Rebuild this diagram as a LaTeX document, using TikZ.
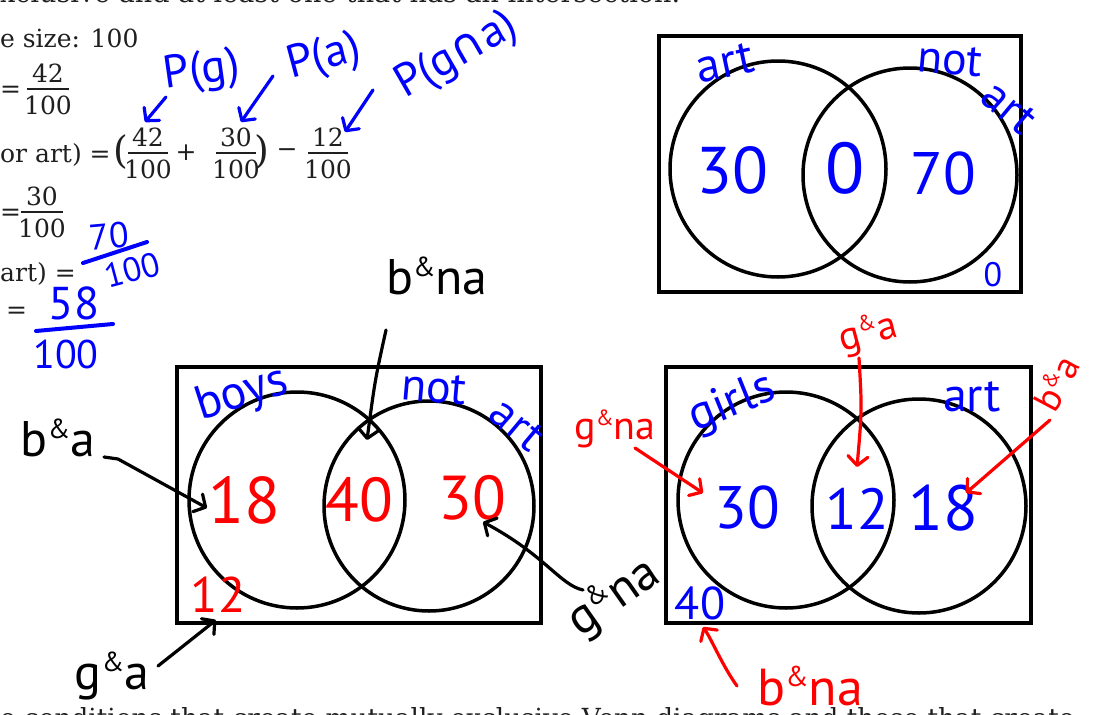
\documentclass[tikz,border=0pt]{standalone}
\usepackage{fontspec}
\setmainfont{DejaVu Serif}
\newfontfamily\hand{PT Sans}
\newfontfamily\symf{DejaVu Sans}
\usetikzlibrary{arrows.meta}
\definecolor{hblue}{RGB}{0,0,255}
\definecolor{hred}{RGB}{255,0,0}
\newcommand\hamp{\raisebox{0.35em}{\scalebox{0.55}{\&}}}
\newcommand\hs[1]{\hand\fontsize{#1}{#1}\selectfont}
\newcommand\ps[1]{\fontsize{#1}{#1}\selectfont}
\tikzset{
  hw/.style={font=\hs{#1}, inner sep=0pt},
  pt/.style={font=\ps{#1}, inner sep=0pt, text=black!88},
  box/.style={draw=black, line width=4.5pt, inner sep=0pt},
  ring/.style={draw=black, line width=3.5pt, circle, inner sep=0pt},
  arr/.style={line width=3.2pt, line cap=round, line join=round,
    -{Straight Barb[length=9pt,width=20pt,line cap=round,line join=round]}},
  fbar/.style={line width=1.8pt, draw=black!88},
  hbar/.style={line width=4pt, line cap=round, draw=hblue},
}
\newcommand\fracat[6]{%
  \node[pt=25] (#1n) at (#2,#3-16) {#4};
  \draw[fbar] (#2-#6,#3) -- (#2+#6,#3);
  \node[pt=25] (#1d) at (#2,#3+16) {#5};}
\begin{document}
\begin{tikzpicture}[x=1pt,y=-1pt]
\useasboundingbox (0,0) rectangle (1093,715);
\clip (0,0) rectangle (1093,715);

% printed text
\node[pt=27, anchor=base west] (topline) at (0,2) {xclusive and at least one that has an intersection.};
\node[pt=26.3, anchor=base west] (botline) at (0,727) {e conditions that create mutually exclusive Venn diagrams and those that create};
\node[pt=25, anchor=base west] (ss) at (0,47) {e size: 100};
\node[pt=25, anchor=base west] (eq1) at (0,97) {=};
\fracat{fa}{48}{89}{42}{100}{21}
\node[pt=25, anchor=base west] (orart) at (0,162) {or art) =};
\node[pt=38] (lp) at (121,152) {(};
\fracat{fb}{148}{153}{42}{100}{20}
\node[pt=25] (plus) at (186,153) {+};
\fracat{fc}{236}{153}{30}{100}{20}
\node[pt=38] (rp) at (262,152) {)};
\node[pt=25] (minus) at (287,153) {−};
\fracat{fd}{328}{153}{12}{100}{20}
\node[pt=25, anchor=base west] (eq4) at (0,220) {=};
\fracat{fe}{42}{212}{30}{100}{21}
\node[pt=25, anchor=base west] (artq) at (0,281) {art) =};
\node[pt=25, anchor=base west] (eq6) at (6,318) {=};

% blue handwritten fractions
\node[hw=36, text=hblue, rotate=5] (n70) at (109,236) {70};
\draw[hbar] (83,263) -- (147,242);
\node[hw=34, text=hblue, rotate=15] (d100a) at (132,270) {100};
\node[hw=46, text=hblue] (n58) at (74,303) {58};
\draw[hbar] (36,331) -- (113,324);
\node[hw=40, text=hblue] (d100b) at (66,354) {100};

% P labels
\node[hw=46, text=hblue, rotate=8] (pg) at (202,72) {P(g)};
\node[hw=46, text=hblue, rotate=15] (pa) at (324,58) {P(a)};
\node[hw=46, text=hblue, rotate=30] (pga) at (457,56) {P(g{\symf ∩}a)};
\coordinate (pgs) at (166,97);  \coordinate (pgt) at (145,122);
\coordinate (pas) at (273,76);  \coordinate (pat) at (241,122);
\coordinate (pgas) at (373,90); \coordinate (pgat) at (345,132);
\draw[arr, hblue] (pgs) -- (pgt);
\draw[arr, hblue] (pas) -- (pat);
\draw[arr, hblue] (pgas) -- (pgat);

% top-right Venn
\node[box, minimum width=362pt, minimum height=256pt] (U1) at (840,164) {};
\node[ring, minimum size=216pt] (A1) at (778,169) {};
\node[ring, minimum size=214pt] (NA1) at (910,175) {};
\node[hw=48, text=hblue, rotate=12] (art1) at (725,63) {art};
\node[hw=46, text=hblue, rotate=-5] (not1) at (950,60) {not};
\node[hw=46, text=hblue, rotate=-40] (art1b) at (1009,108) {art};
\node[hw=66, text=hblue] (v30) at (732,170) {30};
\node[hw=72, text=hblue] (v0) at (845,168) {0};
\node[hw=60, text=hblue] (v70) at (943,173) {70};
\node[hw=34, text=hblue] (v0b) at (993,275) {0};

% bottom-left Venn
\node[box, minimum width=364pt, minimum height=256pt] (U2) at (359,495) {};
\node[ring, minimum size=216pt] (B2) at (297,500) {};
\node[ring, minimum size=210pt] (NA2) at (429,506) {};
\node[hw=48, text=hblue, rotate=18] (boys) at (242,395) {boys};
\node[hw=46, text=hblue, rotate=-5] (not2) at (434,388) {not};
\node[hw=46, text=hblue, rotate=-40] (art2) at (517,425) {art};
\node[hw=66, text=hred] (r18) at (244,500) {18};
\node[hw=62, text=hred] (r40) at (359,500) {40};
\node[hw=62, text=hred] (r30) at (472,498) {30};
\node[hw=50, text=hred] (r12) at (218,595) {12};
\node[hw=50] (ba1) at (58,438) {b\hamp a};
\node[hw=50] (bna1) at (437,276) {b\hamp na};
\node[hw=50, rotate=35] (gna1) at (614,598) {g\hamp na};
\node[hw=50] (ga1) at (112,676) {g\hamp a};
\coordinate (ba1s) at (104,457);  \coordinate (ba1t) at (207,508);
\coordinate (bna1s) at (386,330); \coordinate (bna1t) at (367,440);
\coordinate (gna1s) at (583,590); \coordinate (gna1t) at (483,522);
\coordinate (ga1s) at (158,666);  \coordinate (ga1t) at (216,620);
\draw[arr] (ba1s) -- (118,459) -- (ba1t);
\draw[arr] (bna1s) .. controls (375,380) .. (bna1t);
\draw[arr] (gna1s) .. controls (560,585) and (545,555) .. (gna1t);
\draw[arr] (ga1s) -- (ga1t);

% bottom-right Venn
\node[box, minimum width=365pt, minimum height=256pt] (U3) at (848.5,495) {};
\node[ring, minimum size=216pt] (G3) at (786,500) {};
\node[ring, minimum size=214pt] (A3) at (919,506) {};
\node[hw=48, text=hblue, rotate=22] (girls) at (732,404) {girls};
\node[hw=48, text=hblue] (art3) at (972,397) {art};
\node[hw=60, text=hblue] (b30) at (747,507) {30};
\node[hw=58, text=hblue] (b12) at (857,509) {12};
\node[hw=64, text=hblue] (b18) at (943,508) {18};
\node[hw=46, text=hblue] (b40) at (700,603) {40};
\node[hw=40, text=hred] (gna2) at (615,429) {g\hamp na};
\node[hw=40, text=hred, rotate=15] (ga2) at (868,334) {g\hamp a};
\node[hw=38, text=hred, rotate=62] (ba2) at (1056,383) {b\hamp a};
\node[hw=52, text=hred] (bna2) at (810,686) {b\hamp na};
\coordinate (gna2s) at (635,448); \coordinate (gna2t) at (703,493);
\coordinate (ga2s) at (859,358);  \coordinate (ga2t) at (857,467);
\coordinate (ba2s) at (1050,420); \coordinate (ba2t) at (966,493);
\coordinate (bna2s) at (737,686); \coordinate (bna2t) at (703,627);
\draw[arr, hred] (gna2s) -- (gna2t);
\draw[arr, hred] (ga2s) .. controls (862,410) .. (ga2t);
\draw[arr, hred] (ba2s) -- (ba2t);
\draw[arr, hred] (bna2s) .. controls (722,665) and (712,640) .. (bna2t);
\end{tikzpicture}
\end{document}
